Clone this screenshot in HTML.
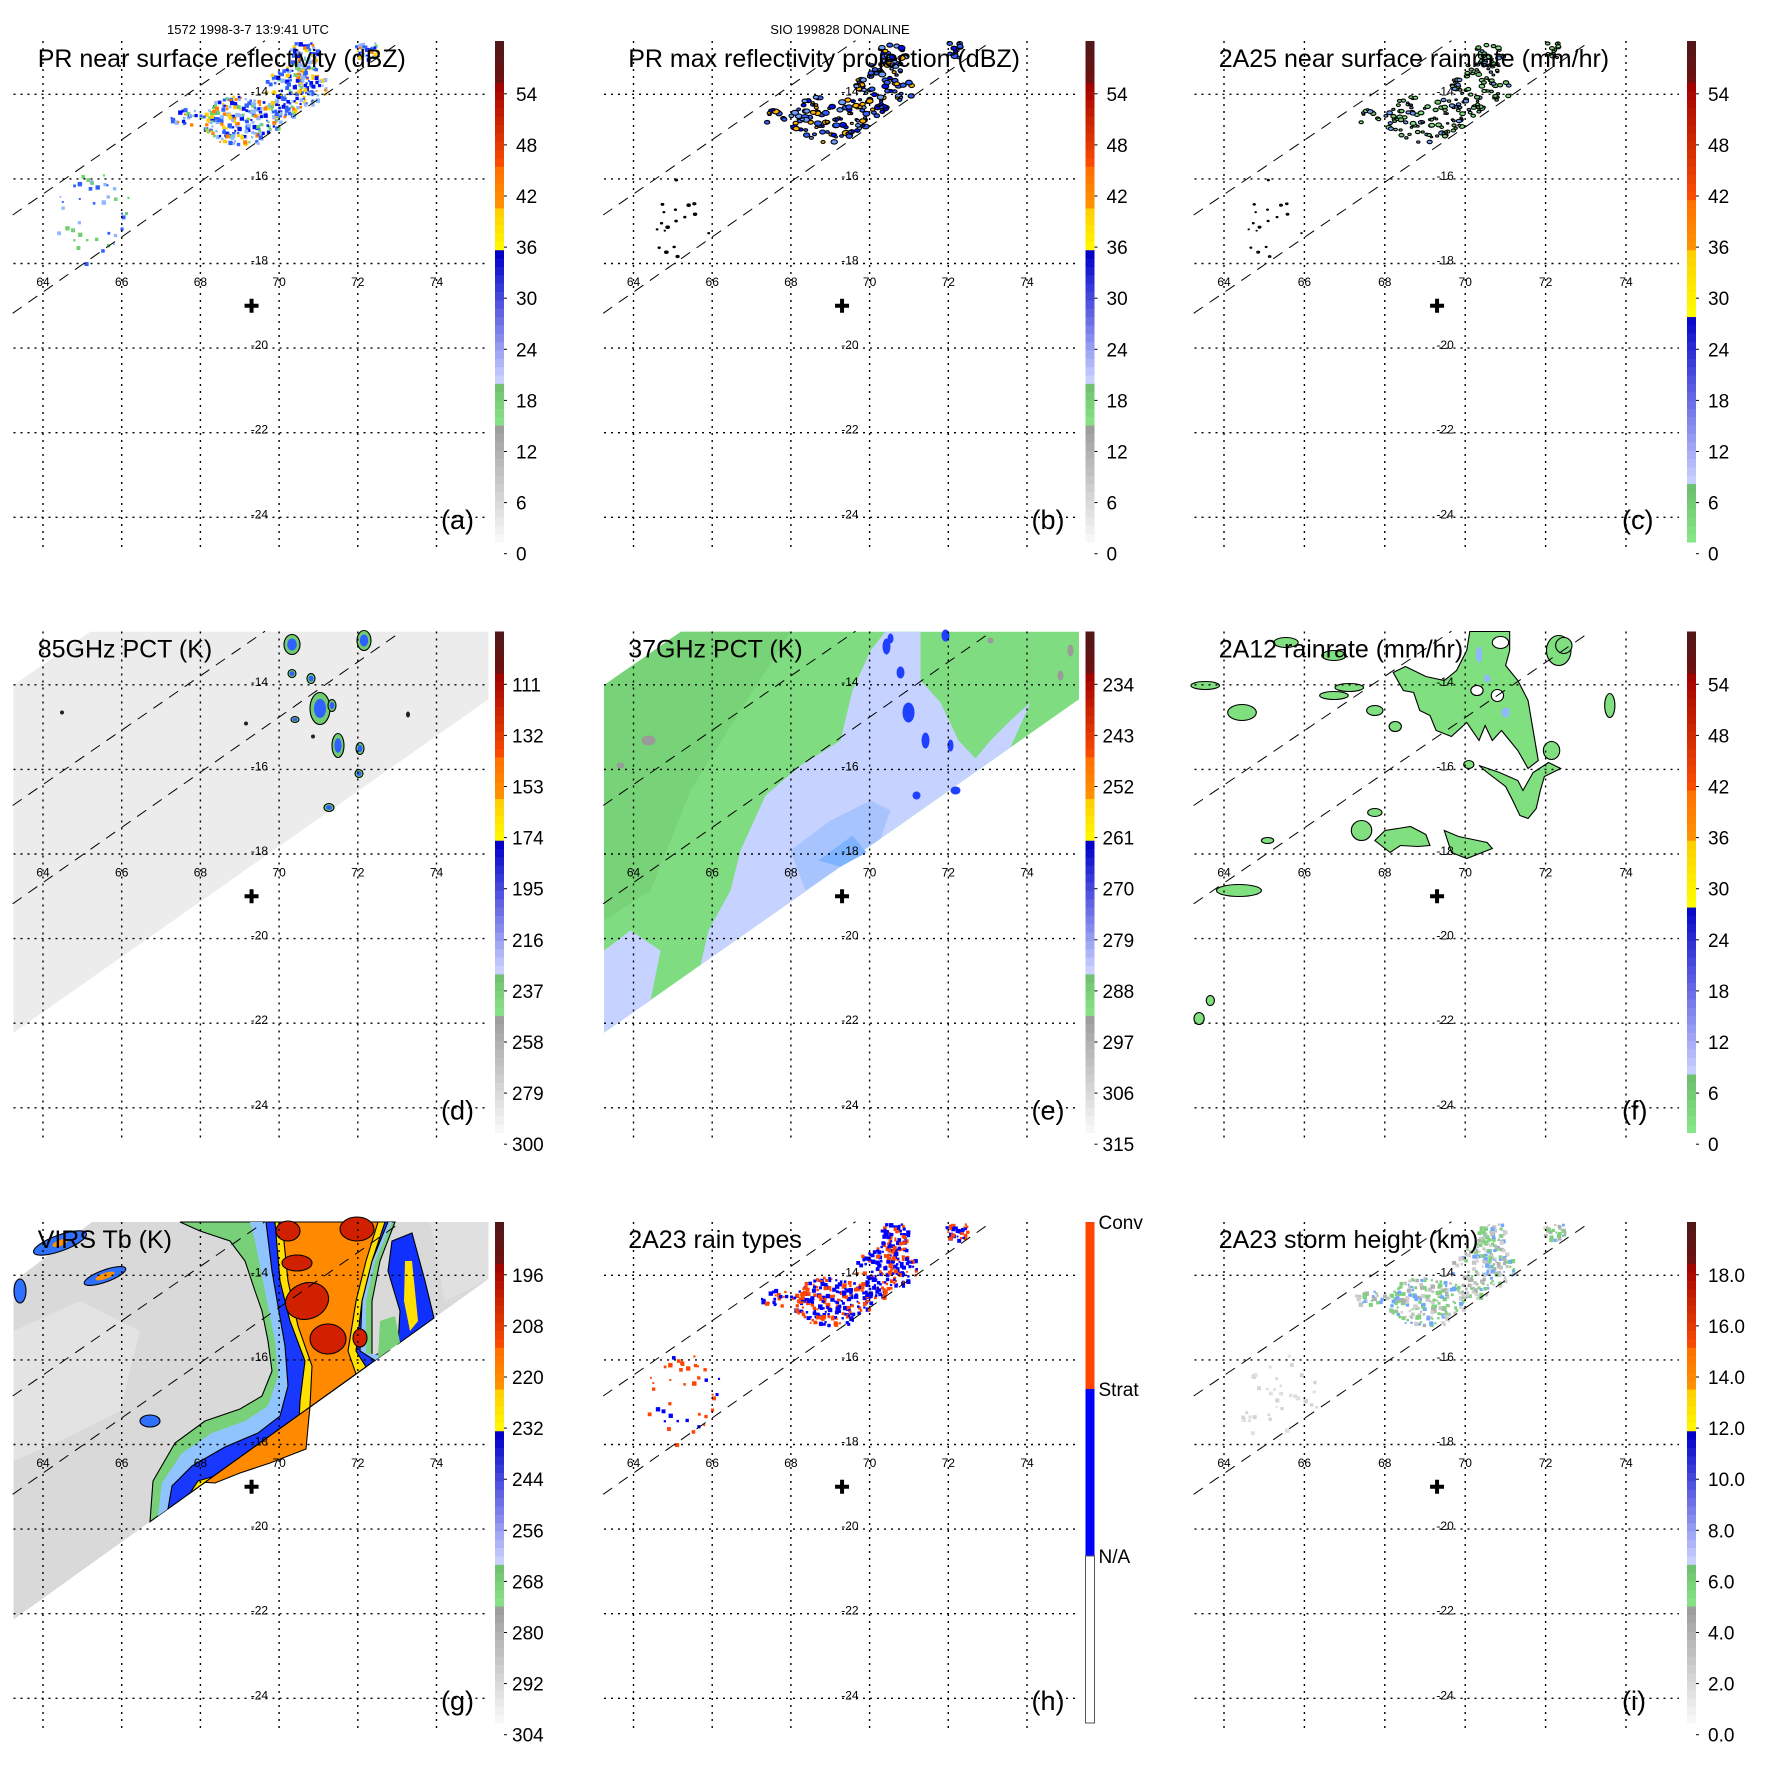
<!DOCTYPE html>
<html><head><meta charset="utf-8"><style>
html,body{margin:0;padding:0;background:#fff;}
svg{display:block;font-family:"Liberation Sans",sans-serif;}
</style></head><body>
<svg id="fig" width="1771" height="1771" viewBox="0 0 1771 1771" xmlns="http://www.w3.org/2000/svg">
<rect x="0" y="0" width="1771" height="1771" fill="#fff"/>
<text x="248" y="34" font-size="13" text-anchor="middle">1572 1998-3-7 13:9:41 UTC</text>
<text x="840" y="34" font-size="13" text-anchor="middle">SIO 199828 DONALINE</text>
</svg>
<script>
// ---- data arrays ----
const lonTicks = [64,66,68,70,72,74];
const latTicks = [-14,-16,-18,-20,-22,-24];
const ticksDBZ = ['54','48','42','36','30','24','18','12','6','0'];
const ticks85 = ['111','132','153','174','195','216','237','258','279','300'];
const ticks37 = ['234','243','252','261','270','279','288','297','306','315'];
const ticksVIRS = ['196','208','220','232','244','256','268','280','292','304'];
const ticksHeight = ['18.0','16.0','14.0','12.0','10.0','8.0','6.0','4.0','2.0','0.0'];
const titles = ['PR near surface reflectivity (dBZ)','PR max reflectivity projection (dBZ)','2A25 near surface rainrate (mm/hr)','85GHz PCT (K)','37GHz PCT (K)','2A12 rainrate (mm/hr)','VIRS Tb (K)','2A23 rain types','2A23 storm height (km)'];
const letters = ['(a)','(b)','(c)','(d)','(e)','(f)','(g)','(h)','(i)'];
// PR echo clusters: lon, lat, radius lon, radius lat, count
const prClusters = [[69.0,-14.6,1.0,0.6,220],[70.4,-13.9,0.8,0.7,200],[70.6,-13.0,0.35,0.4,70],[72.2,-12.9,0.3,0.25,40],[67.6,-14.5,0.4,0.2,25],[65.3,-16.9,1.0,1.1,45]];
const siteLon = 69.3, siteLat = -19.0;

const NS='http://www.w3.org/2000/svg';
const svg=document.getElementById('fig');
function mk(tag,parent,attrs){const e=document.createElementNS(NS,tag);for(const k in attrs)e.setAttribute(k,attrs[k]);parent.appendChild(e);return e;}

const colCfg=[{kx:39.35,gr:488.5,cb:495,lx:516},{kx:39.35,gr:488.5,cb:495,lx:516},{kx:40.2,gr:498,cb:506,lx:527}];
const offs=[0,590.5,1181];
const Y=lat=>94.3+(-14-lat)*42.3;
const X1=lon=>43+(lon-64)*39.35;
let seed=7;
function rnd(){seed=(seed*16807)%2147483647;return seed/2147483647;}
function inSwath(x,y){const yu=215-0.69*(x-12.7), yl=313.3-0.70*(x-12.7);return y>yu&&y<yl&&y>42&&x>14;}
const edgeTMI=x=>108.8+0.702*(488.5-x);
const edgeV=x=>98+0.717*(488.5-x);

function hexLerp(a,b,t){const p=h=>[1,3,5].map(i=>parseInt(h.substr(i,2),16));const A=p(a),B=p(b);return 'rgb('+A.map((v,i)=>Math.round(v+(B[i]-v)*t)).join(',')+')';}
const cmapA=[[0,.236,'#fafafa','#9a9a9a'],[.236,.322,'#88e488','#6cbc6c'],[.322,.576,'#ccd4ff','#0000c8'],[.576,.66,'#ffff00','#ffd000'],[.66,.745,'#ff9800','#ff7000'],[.745,.916,'#ff5000','#a00000'],[.916,1,'#701010','#501818']];
const cmapF=[[0,.117,'#88e888','#6cbc6c'],[.117,.456,'#ccd4ff','#0000c8'],[.456,.575,'#ffff00','#ffd000'],[.575,.683,'#ff9800','#ff7000'],[.683,.916,'#ff5000','#a00000'],[.916,1,'#701010','#501818']];
function cmapColor(cm,f){for(const s of cm){if(f>=s[0]&&f<=s[1])return hexLerp(s[2],s[3],(f-s[0])/(s[1]-s[0]));}return '#fff';}

function speckles(g,colors,size,outline,scaleN){
  seed=11;
  prClusters.forEach((c,ci)=>{
    const n=Math.round(c[4]*scaleN);
    for(let i=0;i<n;i++){
      const a=rnd()*6.283,r=Math.sqrt(rnd());
      const x=X1(c[0]+Math.cos(a)*r*c[2]), y=Y(c[1]+Math.sin(a)*r*c[3]);
      if(!inSwath(x,y))continue;
      let col=colors[Math.floor(rnd()*colors.length)];
      let s=size*(0.6+rnd()*0.9);
      if(ci===5&&colors.sparse){col=colors.sparse[Math.floor(rnd()*colors.sparse.length)];if(outline)s*=0.5;}
      const el=mk(outline?'ellipse':'rect',g,outline?{cx:x,cy:y,rx:s,ry:s*0.7,fill:col,stroke:'#000','stroke-width':1.1}:{x:x,y:y,width:s,height:s,fill:col});
      
      
    }
  });
}
function poly(g,pts,fill,stroke,name){const el=mk('polygon',g,{points:pts.map(p=>p.join(',')).join(' '),fill:fill,stroke:stroke||'none','stroke-width':1.1});
  
  
  return el;}
function ell(g,e,fill,stroke,name){const el=mk('ellipse',g,{cx:e[0],cy:e[1],rx:e[2],ry:e[3],fill:fill,stroke:stroke||'none','stroke-width':1.1,transform:'rotate('+(e[4]||0)+' '+e[0]+' '+e[1]+')'});
  
  }

const fields=[];
fields[0]=g=>{const c=['#0010f0','#0010f0','#3060ff','#3060ff','#90b8ff','#90b8ff','#70d070','#ffd000','#ff8000'];c.sparse=['#90b8ff','#3060ff','#70d070'];speckles(g,c,3,false,1);};
fields[1]=g=>{const c=['#0010f0','#3060ff','#3060ff','#70a0ff','#ffb000'];c.sparse=['#101010'];speckles(g,c,2.4,true,0.45);};
fields[2]=g=>{const c=['#80e080','#80e080','#70c870','#70a0ff'];c.sparse=['#203020'];speckles(g,c,1.9,true,0.45);};
fields[3]=g=>{
  poly(g,[[13.5,94.6],[90.4,41.2],[488.5,41.2],[488.5,108.8],[13.5,442.3]],'#ececec','','tmi-swath');
  const bl=[[292,54,8,10],[364,50,7,10],[292,83,4,4],[311,88,4,5],[320,118,10,16],[332,115,4,6],[295,129,4,3],[338,155,6,12],[360,158,4,6],[359,183,4,4],[329,217,5,4]];
  bl.forEach(b=>{ell(g,b,'#70cc70','#000','cold-cell');ell(g,[b[0],b[1],b[2]*0.6,b[3]*0.6],'#3060ff','','cold-core');});
  [[62,122,2,2],[246,133,2,2],[408,124,2,3],[313,146,2,2]].forEach(b=>ell(g,b,'#222','','dark-pixel'));
};
fields[4]=g=>{
  poly(g,[[13.5,94.6],[90.4,41.2],[488.5,41.2],[488.5,108.8],[13.5,442.3]],'#80dc80','','tmi-swath');
  poly(g,[[13.5,94.6],[90.4,41.2],[200,41.2],[150,120],[100,200],[60,300],[13.5,330]],'#78d278','','swath-green-dark');
  poly(g,[[140,300],[150,260],[175,205],[210,175],[250,150],[262,100],[280,60],[295,41.2],[330,41.2],[330,90],[350,112],[368,150],[385,168],[400,150],[420,130],[440,112],[420,edgeTMI(420)],[110,edgeTMI(110)],[118,340]],'#c6d2ff','','warm-region');
  poly(g,[[13.5,360],[40,340],[70,360],[60,410],[13.5,442]],'#c6d2ff','','warm-region-left');
  poly(g,[[200,260],[240,230],[280,210],[300,220],[290,edgeTMI(290)],[215,300]],'#a8c4ff','','scatter-region');
  poly(g,[[228,270],[262,245],[276,262],[250,edgeTMI(250)]],'#7eb4ff','','scatter-core');
  [[296,56,4,8],[310,82,4,6],[318,122,6,10],[335,150,4,8],[360,155,3,6],[365,200,5,4],[326,205,4,4],[300,48,3,5],[355,45,4,6]].forEach(b=>ell(g,b,'#2040ff','','cold-spot'));
  [[58,150,7,5],[30,175,4,3],[400,50,3,3],[480,60,3,6],[470,85,3,5]].forEach(b=>ell(g,b,'#9a9a9a','','gray-spot'));
};
fields[5]=g=>{
  const F1=[[283,41],[322,41],[322,60],[318,75],[330,90],[340,110],[345,140],[350,170],[340,178],[330,160],[322,150],[314,140],[305,150],[298,135],[292,150],[280,132],[265,146],[250,140],[244,125],[234,120],[228,102],[218,100],[208,82],[220,76],[240,86],[258,90],[270,80],[280,60]];
  poly(g,F1,'#80e080','#000','rain-area-main');
  poly(g,[[292,175],[300,182],[318,196],[325,210],[332,225],[340,228],[348,218],[352,200],[356,186],[372,178],[360,172],[345,182],[335,200],[330,190],[312,182]],'#80e080','#000','rain-band');
  poly(g,[[190,250],[200,240],[225,236],[240,244],[244,255],[232,256],[215,255],[205,262]],'#80e080','#000','rain-cell');
  poly(g,[[258,240],[272,246],[300,252],[305,258],[280,268],[265,262]],'#80e080','#000','rain-cell');
  [[177,240,10,10],[190,222,7,4],[57,300,22,6],[60,122,14,8],[24,95,14,4],[150,105,14,4],[165,97,14,4],[190,120,8,5],[210,136,6,5],[420,115,5,12],[370,60,12,15],[150,65,12,5],[103,52,12,5],[363,160,8,9],[282,174,5,4],[85,250,6,3],[18,428,5,6],[29,410,4,5],[375,55,8,8]].forEach(b=>ell(g,b,'#80e080','#000','rain-cell'));
  [[313,52,8,6],[290,100,6,5],[310,105,6,6]].forEach(b=>ell(g,b,'#fff','#000','rain-hole'));
  [[292,64,3,8],[318,122,4,5],[300,88,3,4]].forEach(b=>ell(g,b,'#90b8ff','','rain-heavy'));
};
fields[6]=g=>{
  poly(g,[[13.5,100.8],[92,41],[488.5,41],[488.5,98],[13.5,438.5]],'#d9d9d9','','virs-swath');
  poly(g,[[13.5,150],[80,120],[140,150],[120,230],[60,260],[13.5,280]],'#e3e3e3','','warm-cloud-free');
  poly(g,[[430,41],[488.5,41],[488.5,98],[445,120]],'#e0e0e0','','warm-right');
  const edge=edgeV;
  poly(g,[[150,edge(150)],[153,300],[175,262],[205,240],[240,228],[262,215],[272,190],[268,160],[262,130],[255,110],[245,80],[230,60],[200,50],[180,41],[395,41],[380,80],[372,120],[372,175],[390,edge(390)]],'#78d078','#000','cloud-edge');
  poly(g,[[158,edge(158)],[162,302],[182,272],[212,252],[245,240],[268,225],[278,195],[275,160],[268,125],[262,95],[255,60],[250,41],[392,41],[375,80],[366,120],[366,172],[382,edge(382)]],'#90c4ff','','cloud-cool');
  poly(g,[[168,edge(168)],[172,305],[192,285],[225,266],[258,252],[280,235],[288,205],[285,165],[278,125],[272,90],[266,41],[388,41],[372,80],[362,120],[360,170],[375,edge(375)]],'#1838ff','#000','cloud-cold');
  poly(g,[[190,edge(190)],[198,300],[225,292],[260,280],[298,262],[300,220],[305,180],[290,140],[280,100],[275,41],[385,41],[372,80],[362,120],[356,170],[366,edge(366)]],'#ffe000','#000','cloud-very-cold');
  poly(g,[[205,edge(205)],[215,302],[240,292],[270,282],[306,268],[310,225],[312,185],[298,145],[288,100],[282,41],[378,41],[366,80],[356,120],[348,170],[356,edge(356)]],'#ff8a00','#000','cloud-top-cold');
  poly(g,[[392,60],[412,52],[425,100],[434,edge(434)],[398,edge(398)],[400,130],[388,90]],'#1030ff','#000','cold-band');
  poly(g,[[380,140],[395,135],[400,edge(400)],[378,edge(378)]],'#78d078','','edge-green');
  poly(g,[[405,80],[412,80],[418,140],[410,150],[404,120]],'#ffe000','','cold-band-core');
  [[307,120,22,18,-20],[328,158,18,15,0],[357,48,17,12,0],[288,50,12,10,0],[297,82,15,8,0],[360,157,7,9,0]].forEach(e=>ell(g,e,'#d02000','#000','deep-convection'));
  [[60,62,28,8,-20],[105,95,22,6,-20],[20,110,6,12,0],[150,240,10,6,0]].forEach(e=>ell(g,e,'#3070ff','#000','cold-patch'));
  [[105,95,10,3,-20],[60,62,8,3,-20]].forEach(e=>ell(g,e,'#ff9000','','cold-patch-core'));
};
fields[7]=g=>{const c=['#0000ff','#0000ff','#0000ff','#ff4500','#ff4500'];c.sparse=['#ff4500','#ff4500','#ff4500','#0000ff'];speckles(g,c,3,false,1);};
fields[8]=g=>{const c=['#c4c4c4','#b0b0b0','#d0d0d0','#80d080','#80d080','#70a8ff'];c.sparse=['#e0e0e0','#d4d4d4'];speckles(g,c,3,false,0.9);};

const tickSets=[ticksDBZ,ticksDBZ,ticksDBZ,ticks85,ticks37,ticksDBZ,ticksVIRS,null,ticksHeight];
const cmaps=[cmapA,cmapA,cmapF,cmapA,cmapA,cmapF,cmapA,null,cmapA];

for(let p=0;p<9;p++){
  const col=p%3,row=Math.floor(p/3),cf=colCfg[col];
  const G=mk('g',svg,{transform:'translate('+offs[col]+','+offs[row]+')'});
  
  
  const X=lon=>43+(lon-64)*cf.kx;
  const s=cf.kx/39.35;
  const F=mk('g',G,{transform:'translate(13.5,0) scale('+s+',1) translate(-13.5,0)'});
  
  
  fields[p](F);
  const SW=mk('g',F,{stroke:'#000','stroke-width':1,'stroke-dasharray':'11,8',fill:'none'});
  
  
  mk('line',SW,{x1:12.7,y1:215,x2:265,y2:40.7});
  mk('line',SW,{x1:12.7,y1:313.3,x2:401.7,y2:40.7});
  const GR=mk('g',G,{stroke:'#000','stroke-width':1.4,'stroke-dasharray':'2,5'});
  
  
  lonTicks.forEach(l=>{const x=X(l);mk('line',GR,{x1:x,y1:41,x2:x,y2:551});});
  latTicks.forEach(l=>{const y=Y(l);mk('line',GR,{x1:13.5,y1:y,x2:cf.gr,y2:y});});
  lonTicks.forEach(l=>{const t=mk('text',G,{x:X(l),y:286,'font-size':12,'text-anchor':'middle'});t.textContent=String(l);
    
    });
  latTicks.forEach(l=>{const t=mk('text',G,{x:X(69.5),y:Y(l)+1,'font-size':12,'text-anchor':'middle'});t.textContent=String(l);
    
    });
  const cx=X(siteLon),cy=Y(siteLat);
  const cr=mk('path',G,{d:'M'+(cx-7)+' '+cy+'H'+(cx+7)+'M'+cx+' '+(cy-7)+'V'+(cy+7),stroke:'#000','stroke-width':4});
  
  
  const tt=mk('text',G,{x:37.7,y:67,'font-size':25});tt.textContent=titles[p];
  
  
  const lt=mk('text',G,{x:441,y:529,'font-size':27});lt.textContent=letters[p];
  
  
  const CB=mk('g',G,{});
  
  
  const bx=cf.cb,bt=41,bb=542,bw=9,bh=bb-bt;
  if(cmaps[p]){
    const N=60;
    for(let i=0;i<N;i++){const f=(i+0.5)/N;mk('rect',CB,{x:bx,y:bb-(i+1)*bh/N,width:bw,height:bh/N+0.5,fill:cmapColor(cmaps[p],f)});}
    tickSets[p].forEach((lab,i)=>{const y=93.8+i*51.1;
      mk('line',CB,{x1:bx+bw,y1:y,x2:bx+bw+3,y2:y,stroke:'#000','stroke-width':1});
      const t=mk('text',CB,{x:cf.lx+(lab.length>=3&&p!==8?-4:0),y:y+7,'font-size':19});t.textContent=lab;
      
      });
  } else {
    mk('rect',CB,{x:bx,y:bt,width:bw,height:bh/3,fill:'#ff4500'});
    mk('rect',CB,{x:bx,y:bt+bh/3,width:bw,height:bh/3,fill:'#0000ff'});
    mk('rect',CB,{x:bx,y:bt+2*bh/3,width:bw,height:bh/3,fill:'#fff',stroke:'#555','stroke-width':1});
    [['Conv',bt],['Strat',bt+bh/3],['N/A',bt+2*bh/3]].forEach(a=>{const t=mk('text',CB,{x:bx+13,y:a[1]+7,'font-size':19});t.textContent=a[0];
      
      });
  }
}
</script>
</body></html>
